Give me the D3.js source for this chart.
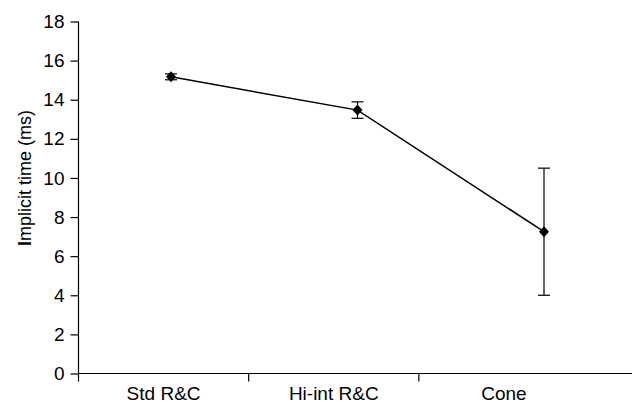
<!DOCTYPE html>
<html>
<head>
<meta charset="utf-8">
<script src="https://cdn.jsdelivr.net/npm/d3@7"></script>
<style>
  body { margin: 0; background: #fff; }
  text { font-family: "Liberation Sans", Arial, sans-serif; fill: #000; }
</style>
</head>
<body>
<div id="chart"></div>
<script>
const categories = ["Std R&C", "Hi-int R&C", "Cone"];
const means = [15.17, 13.47, 7.25];
const errors = [0.15, 0.42, 3.25];
const yTicks = [0, 2, 4, 6, 8, 10, 12, 14, 16, 18];

const width = 632, height = 406;
const svg = d3.select("#chart").append("svg")
  .attr("width", width).attr("height", height);

const x0 = 78.5, xEnd = 589;
const y = d3.scaleLinear().domain([0, 18]).range([373.5, 21.5]);

// category bands for axis labels
const xBand = d3.scaleBand().domain(categories).range([x0, xEnd]);
// points sit a bit right of the labels, as in the original
const xPt = d3.scalePoint().domain(categories).range([171, 544]);

// y axis
const yAxis = svg.append("g").attr("transform", `translate(${x0},0)`)
  .call(d3.axisLeft(y).tickValues(yTicks).tickSize(8).tickPadding(6));
yAxis.attr("font-size", null).attr("font-family", null);
yAxis.select(".domain").attr("d", `M0,${y(18)}V${y(0)}`).attr("stroke", "#000").attr("stroke-width", 1.2);
yAxis.selectAll(".tick line").attr("stroke", "#000").attr("stroke-width", 1.2);
yAxis.selectAll("text").style("font-size", "19px").attr("fill", "#000");

// x axis
svg.append("line")
  .attr("x1", x0).attr("x2", width).attr("y1", y(0)).attr("y2", y(0))
  .attr("stroke", "#000").attr("stroke-width", 1.2);
const bounds = [x0].concat(categories.slice(1).map(c => xBand(c)));
svg.selectAll(".xtick").data(bounds).join("line")
  .attr("x1", d => d).attr("x2", d => d)
  .attr("y1", y(0)).attr("y2", y(0) + 8)
  .attr("stroke", "#000").attr("stroke-width", 1.2);
svg.selectAll(".xlab").data(categories).join("text")
  .attr("x", d => xBand(d) + xBand.bandwidth() / 2)
  .attr("y", 400)
  .attr("text-anchor", "middle")
  .style("font-size", "19px")
  .text(d => d);

// y title
const title = svg.append("text")
  .attr("transform", `translate(31,178) rotate(-90)`)
  .attr("text-anchor", "middle")
  .style("font-size", "18px");
title.append("tspan").style("font-weight", "bold").text("I");
title.append("tspan").text("mplicit time (ms)");

const data = categories.map((c, i) => ({ c, m: means[i], e: errors[i] }));

// line
svg.append("path").datum(data)
  .attr("fill", "none").attr("stroke", "#000").attr("stroke-width", 1.5)
  .attr("d", d3.line().x(d => xPt(d.c)).y(d => y(d.m)));

// error bars
const eb = svg.append("g").attr("stroke", "#000").attr("stroke-width", 1.2);
eb.selectAll(".v").data(data).join("line")
  .attr("x1", d => xPt(d.c)).attr("x2", d => xPt(d.c))
  .attr("y1", d => y(d.m + d.e)).attr("y2", d => y(d.m - d.e));
eb.selectAll(".t").data(data).join("line")
  .attr("x1", d => xPt(d.c) - 6).attr("x2", d => xPt(d.c) + 6)
  .attr("y1", d => y(d.m + d.e)).attr("y2", d => y(d.m + d.e));
eb.selectAll(".b").data(data).join("line")
  .attr("x1", d => xPt(d.c) - 6).attr("x2", d => xPt(d.c) + 6)
  .attr("y1", d => y(d.m - d.e)).attr("y2", d => y(d.m - d.e));

// diamond markers
svg.selectAll(".mk").data(data).join("path")
  .attr("transform", d => `translate(${xPt(d.c)},${y(d.m)})`)
  .attr("d", "M0,-5.5L5,0L0,5.5L-5,0Z")
  .attr("fill", "#000");
</script>
</body>
</html>
